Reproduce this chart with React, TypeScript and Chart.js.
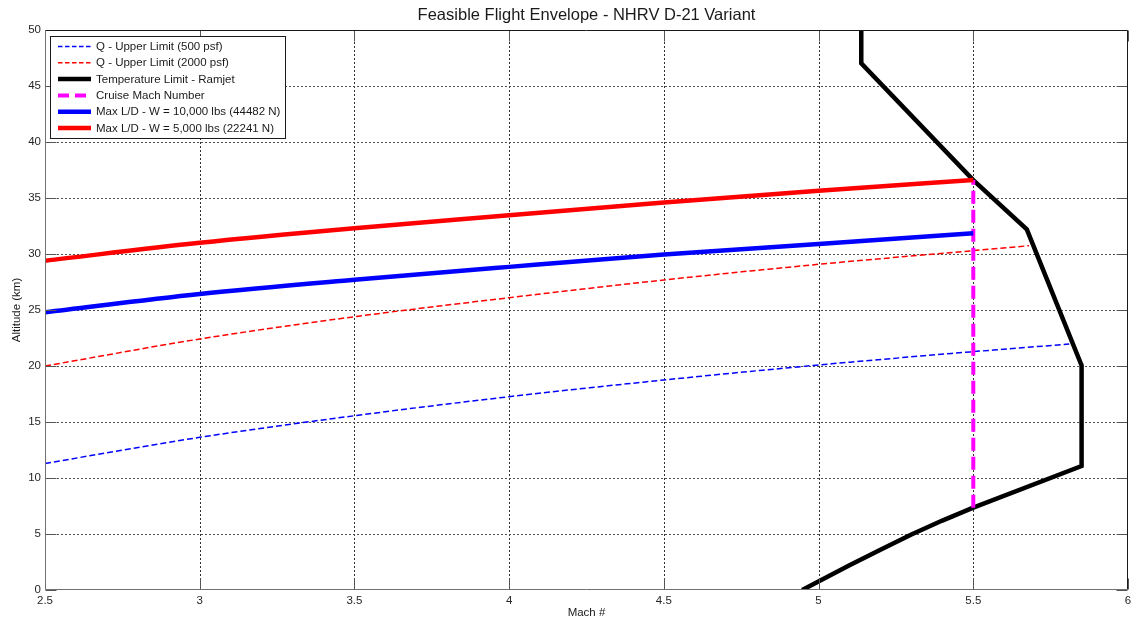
import { useEffect, useRef } from "react";
import { Chart, registerables } from "chart.js";

Chart.register(...registerables);

const FONT = '"Liberation Sans", Arial, sans-serif';

// Q - upper limit, 500 psf
const machQ500 = [2.5, 3.0, 3.5, 4.0, 4.5, 5.0, 5.5, 5.81];
const altQ500 = [11.3, 13.63, 15.56, 17.26, 18.75, 20.09, 21.28, 21.96];

// Q - upper limit, 2000 psf
const machQ2000 = [2.5, 3.0, 3.5, 4.0, 4.5, 5.0, 5.5, 5.68];
const altQ2000 = [20.0, 22.41, 24.4, 26.1, 27.68, 29.08, 30.3, 30.74];

// Ramjet temperature limit
const machTemp = [4.947, 5.1, 5.2, 5.3, 5.4, 5.5, 5.85, 5.85, 5.673, 5.5, 5.138, 5.138];
const altTemp = [0, 2.2, 3.6, 4.95, 6.2, 7.35, 11.07, 20.05, 32.2, 36.6, 47.03, 50];

// Cruise Mach number
const machCruise = [5.5, 5.5];
const altCruise = [7.35, 36.6];

// Max L/D, W = 10,000 lbs
const machLD10k = [2.5, 3.0, 3.5, 4.0, 4.5, 5.0, 5.5];
const altLD10k = [24.8, 26.43, 27.7, 28.85, 29.95, 30.9, 31.85];

// Max L/D, W = 5,000 lbs
const machLD5k = [2.5, 3.0, 3.5, 4.0, 4.5, 5.0, 5.5];
const altLD5k = [29.4, 31.0, 32.3, 33.45, 34.6, 35.65, 36.6];

const xTicks = [2.5, 3, 3.5, 4, 4.5, 5, 5.5, 6];
const yTicks = [0, 5, 10, 15, 20, 25, 30, 35, 40, 45, 50];

const seriesLabels = [
  "Q - Upper Limit (500 psf)",
  "Q - Upper Limit (2000 psf)",
  "Temperature Limit - Ramjet",
  "Cruise Mach Number",
  "Max L/D - W = 10,000 lbs (44482 N)",
  "Max L/D - W = 5,000 lbs (22241 N)",
];

const titleText = "Feasible Flight Envelope - NHRV D-21 Variant";
const xTitle = "Mach #";
const yTitle = "Altitude (km)";

const pts = (xs: number[], ys: number[]) => xs.map((x, i) => ({ x, y: ys[i] }));

type Style = { color: string; width: number; dash: number[]; smooth: boolean };
const styles: Style[] = [
  { color: "#0000ff", width: 1.5, dash: [6, 3], smooth: true },
  { color: "#ff0000", width: 1.5, dash: [6, 3], smooth: true },
  { color: "#000000", width: 4.5, dash: [], smooth: false },
  { color: "#ff00ff", width: 4, dash: [13, 6], smooth: false },
  { color: "#0000ff", width: 4.5, dash: [], smooth: true },
  { color: "#ff0000", width: 4.5, dash: [], smooth: true },
];

const seriesData = [
  pts(machQ500, altQ500),
  pts(machQ2000, altQ2000),
  pts(machTemp, altTemp),
  pts(machCruise, altCruise),
  pts(machLD10k, altLD10k),
  pts(machLD5k, altLD5k),
];

const framePlugin = {
  id: "matlabFrame",
  beforeDatasetsDraw(chart: any) {
    const { ctx, chartArea: a, scales } = chart;
    ctx.save();
    ctx.lineWidth = 1;
    ctx.setLineDash([2, 2]);
    ctx.strokeStyle = "#303030";
    for (const v of xTicks) {
      const px = Math.round(scales.x.getPixelForValue(v)) + 0.5;
      if (px <= a.left + 1 || px >= a.right - 1) continue;
      ctx.beginPath();
      ctx.moveTo(px, a.top);
      ctx.lineTo(px, a.bottom);
      ctx.stroke();
    }
    ctx.strokeStyle = "#505050";
    for (const v of yTicks) {
      const py = Math.round(scales.y.getPixelForValue(v)) + 0.5;
      if (py <= a.top + 1 || py >= a.bottom - 1) continue;
      ctx.beginPath();
      ctx.moveTo(a.left, py);
      ctx.lineTo(a.right, py);
      ctx.stroke();
    }
    ctx.restore();
  },
  afterDatasetsDraw(chart: any) {
    const { ctx, chartArea: a, scales } = chart;
    const L = Math.round(a.left) + 0.5;
    const R = Math.round(a.right) - 0.5;
    const T = Math.round(a.top) + 0.5;
    const B = Math.round(a.bottom) - 0.5;
    ctx.save();
    ctx.setLineDash([]);
    ctx.lineWidth = 1;
    // inward tick marks on all four sides
    const tl = 11;
    ctx.strokeStyle = "#555";
    for (const v of xTicks) {
      const px = Math.round(scales.x.getPixelForValue(v)) + 0.5;
      ctx.beginPath();
      ctx.moveTo(px, B);
      ctx.lineTo(px, B - tl);
      ctx.moveTo(px, T);
      ctx.lineTo(px, T + tl);
      ctx.stroke();
    }
    for (const v of yTicks) {
      const py = Math.round(scales.y.getPixelForValue(v)) + 0.5;
      ctx.beginPath();
      ctx.moveTo(L, py);
      ctx.lineTo(L + tl, py);
      ctx.moveTo(R, py);
      ctx.lineTo(R - tl, py);
      ctx.stroke();
    }
    // axes box
    ctx.strokeStyle = "#1a1a1a";
    ctx.beginPath();
    ctx.moveTo(L, T);
    ctx.lineTo(R, T);
    ctx.lineTo(R, B);
    ctx.stroke();
    ctx.strokeStyle = "#707070";
    ctx.beginPath();
    ctx.moveTo(L, T);
    ctx.lineTo(L, B);
    ctx.lineTo(R, B);
    ctx.stroke();

    // legend box
    const lx = 50.5, ly = 36.5, lw = 235, lh = 102;
    ctx.fillStyle = "#ffffff";
    ctx.fillRect(lx, ly, lw, lh);
    ctx.strokeStyle = "#1a1a1a";
    ctx.strokeRect(lx, ly, lw, lh);
    ctx.font = `11.5px ${FONT}`;
    ctx.textBaseline = "middle";
    ctx.textAlign = "left";
    seriesLabels.forEach((label, i) => {
      const s = styles[i];
      const y = 46.5 + i * 16.3;
      ctx.save();
      ctx.strokeStyle = s.color;
      ctx.lineWidth = s.width;
      ctx.lineCap = "butt";
      ctx.setLineDash(s.dash.length ? (s.width > 2 ? [11, 6] : [4.5, 2.5]) : []);
      ctx.beginPath();
      ctx.moveTo(58, y);
      ctx.lineTo(91, y);
      ctx.stroke();
      ctx.restore();
      ctx.fillStyle = "#1a1a1a";
      ctx.fillText(label, 96, y + 0.5);
    });
    ctx.restore();
  },
  afterDraw(chart: any) {
    const { ctx, chartArea: a } = chart;
    const cx = (a.left + a.right) / 2;
    const cy = (a.top + a.bottom) / 2;
    ctx.save();
    ctx.fillStyle = "#1a1a1a";
    ctx.textAlign = "center";
    ctx.textBaseline = "middle";
    ctx.font = `16.5px ${FONT}`;
    ctx.fillText(titleText, cx, 15);
    ctx.font = `11.5px ${FONT}`;
    ctx.fillText(xTitle, cx, 613);
    ctx.translate(17, cy);
    ctx.rotate(-Math.PI / 2);
    ctx.fillText(yTitle, 0, 0);
    ctx.restore();
  },
};

export default function App() {
  const canvasRef = useRef<HTMLCanvasElement | null>(null);

  useEffect(() => {
    const canvas = canvasRef.current;
    if (!canvas) return;
    const order = seriesData.length;
    const chart = new Chart(canvas, {
      type: "line",
      data: {
        datasets: seriesData.map((d, i) => ({
          label: seriesLabels[i],
          data: d,
          borderColor: styles[i].color,
          backgroundColor: styles[i].color,
          borderWidth: styles[i].width,
          borderDash: styles[i].dash,
          borderCapStyle: "butt",
          borderJoinStyle: "miter",
          pointRadius: 0,
          fill: false,
          cubicInterpolationMode: styles[i].smooth ? "monotone" : "default",
          tension: 0,
          order: order - i,
        })),
      },
      options: {
        responsive: false,
        animation: false,
        parsing: false,
        events: [],
        layout: { padding: { top: 30, right: 8, left: 0, bottom: 0 } },
        plugins: {
          legend: { display: false },
          title: { display: false },
          tooltip: { enabled: false },
        },
        scales: {
          x: {
            type: "linear",
            min: 2.5,
            max: 6,
            afterBuildTicks: (s: any) => {
              s.ticks = xTicks.map((v) => ({ value: v }));
            },
            afterFit: (s: any) => {
              s.height = 31;
            },
            grid: { display: false, drawTicks: false },
            border: { display: false },
            ticks: {
              autoSkip: false,
              maxRotation: 0,
              padding: 4,
              color: "#262626",
              font: { family: FONT, size: 11.5 },
              callback: (v: any) => String(v),
            },
          },
          y: {
            type: "linear",
            min: 0,
            max: 50,
            afterBuildTicks: (s: any) => {
              s.ticks = yTicks.map((v) => ({ value: v }));
            },
            afterFit: (s: any) => {
              s.width = 45;
            },
            grid: { display: false, drawTicks: false },
            border: { display: false },
            ticks: {
              autoSkip: false,
              padding: 4,
              color: "#262626",
              font: { family: FONT, size: 11.5 },
              callback: (v: any) => String(v),
            },
          },
        },
      },
      plugins: [framePlugin],
    } as any);
    return () => chart.destroy();
  }, []);

  return (
    <div style={{ position: "absolute", left: 0, top: 0, width: 1136, height: 621, background: "#fff" }}>
      <canvas ref={canvasRef} width={1136} height={621} />
    </div>
  );
}
